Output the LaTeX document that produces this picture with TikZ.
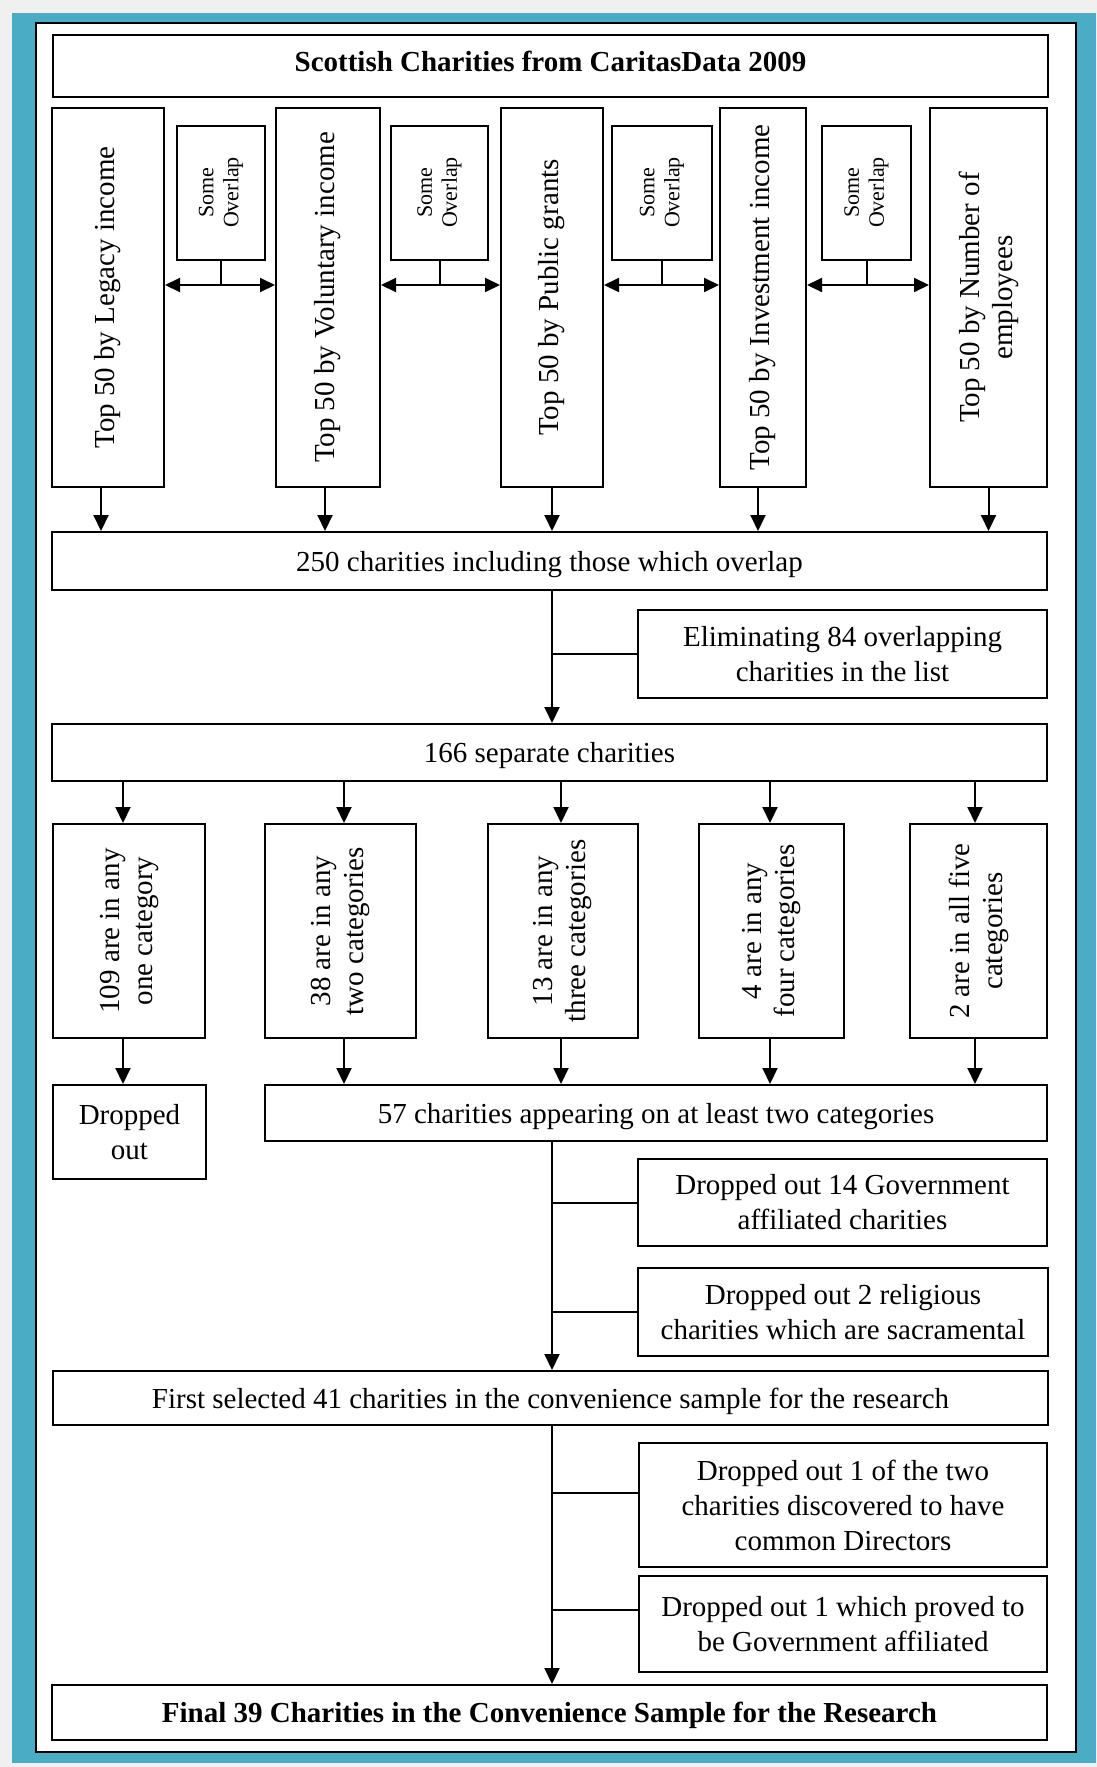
\documentclass[tikz,border=0pt]{standalone}
\usepackage{fontspec}
\setmainfont{Liberation Serif}
\usetikzlibrary{arrows.meta}
\definecolor{frameteal}{RGB}{75,172,198}
\definecolor{pagegray}{RGB}{240,240,240}
\begin{document}
\begin{tikzpicture}[x=1pt,y=-1pt,
  box/.style={draw, line width=2pt, inner sep=0pt, fill=white},
  txt/.style={font=\fontsize{29}{35}\selectfont, align=center, inner sep=0pt},
  onetxt/.style={txt, text depth=0pt},
  boldtxt/.style={font=\fontsize{29}{35}\selectfont\bfseries, align=center, inner sep=0pt},
  smalltxt/.style={font=\fontsize{22}{25}\selectfont, align=center, inner sep=0pt, rotate=90},
  vtxt/.style={font=\fontsize{29}{33}\selectfont, align=center, inner sep=0pt, rotate=90},
  link/.style={line width=2pt},
  flow/.style={line width=2pt, -{Triangle[length=16pt,width=15pt]}},
  twoway/.style={line width=2pt, {Triangle[length=15pt,width=14pt]}-{Triangle[length=15pt,width=14pt]}},
]
% page, coloured frame and inner panel
\useasboundingbox (0,0) rectangle (1097,1767);
\fill[pagegray] (0,0) rectangle (1097,1767);
\fill[frameteal] (12,13) rectangle (1096,1763);
\draw[line width=2pt, fill=white] (36,23) rectangle (1076,1752);

% title
\node[box, boldtxt, minimum width=995pt, minimum height=62pt, text depth=8.5pt] (title) at (550.5,66)
  {Scottish Charities from CaritasData 2009};

% five ranking lists
\node[box, minimum width=112pt, minimum height=379pt] (legacy) at (108,297.5) {};
\node[vtxt] (legacy-t) at (legacy) {Top 50 by Legacy income};
\node[box, minimum width=104pt, minimum height=379pt] (volun) at (328,297.5) {};
\node[vtxt] (volun-t) at (volun) {Top 50 by Voluntary income};
\node[box, minimum width=102pt, minimum height=379pt] (grants) at (552,297.5) {};
\node[vtxt] (grants-t) at (grants) {Top 50 by Public grants};
\node[box, minimum width=86pt, minimum height=379pt] (invest) at (763,297.5) {};
\node[vtxt] (invest-t) at (invest) {Top 50 by Investment income};
\node[box, minimum width=117pt, minimum height=379pt] (employ) at (988.5,297.5) {};
\node[vtxt] (employ-t) at (employ) {Top 50 by Number of\\employees};

% overlap notes between the lists
\node[box, minimum width=88pt, minimum height=134pt] (ov1) at (221,192.5) {};
\node[smalltxt] (ov1-t) at (ov1) {Some\\Overlap};
\node[box, minimum width=97pt, minimum height=134pt] (ov2) at (439.5,192.5) {};
\node[smalltxt] (ov2-t) at (ov2) {Some\\Overlap};
\node[box, minimum width=100pt, minimum height=134pt] (ov3) at (662,192.5) {};
\node[smalltxt] (ov3-t) at (ov3) {Some\\Overlap};
\node[box, minimum width=89pt, minimum height=134pt] (ov4) at (866.5,192.5) {};
\node[smalltxt] (ov4-t) at (ov4) {Some\\Overlap};

\coordinate (hline) at (0,285);
\draw[twoway] (legacy.east |- hline) -- (volun.west |- hline);
\draw[twoway] (volun.east |- hline) -- (grants.west |- hline);
\draw[twoway] (grants.east |- hline) -- (invest.west |- hline);
\draw[twoway] (invest.east |- hline) -- (employ.west |- hline);
\draw[link] (ov1.south) -- (ov1.south |- hline);
\draw[link] (ov2.south) -- (ov2.south |- hline);
\draw[link] (ov3.south) -- (ov3.south |- hline);
\draw[link] (ov4.south) -- (ov4.south |- hline);

% pooled list
\node[box, onetxt, minimum width=995pt, minimum height=58pt] (b250) at (549.5,561)
  {250 charities including those which overlap};
\foreach \n/\dx in {legacy/-7,volun/-3,grants/0,invest/-5,employ/0}
  \draw[flow] ([xshift=\dx pt]\n.south) -- ([xshift=\dx pt]\n.south |- b250.north);

\coordinate (spine) at (552,0);
\node[box, txt, minimum width=409pt, minimum height=88pt] (elim) at (842.5,654)
  {Eliminating 84 overlapping\\charities in the list};
\node[box, onetxt, minimum width=995pt, minimum height=57pt] (b166) at (549.5,752.5)
  {166 separate charities};
\draw[flow] (b250.south -| spine) -- (b166.north -| spine);
\draw[link] (elim.west) -- (elim.west -| spine);

% split by number of categories
\node[box, minimum width=152pt, minimum height=214pt] (c1) at (129,931) {};
\node[vtxt] (c1-t) at (c1) {109 are in any\\one category};
\node[box, minimum width=151pt, minimum height=214pt] (c2) at (340.5,931) {};
\node[vtxt] (c2-t) at (c2) {38 are in any\\two categories};
\node[box, minimum width=150pt, minimum height=214pt] (c3) at (563,931) {};
\node[vtxt] (c3-t) at (c3) {13 are in any\\three categories};
\node[box, minimum width=145pt, minimum height=214pt] (c4) at (771.5,931) {};
\node[vtxt] (c4-t) at (c4) {4 are in any\\four categories};
\node[box, minimum width=137pt, minimum height=214pt] (c5) at (978.5,931) {};
\node[vtxt] (c5-t) at (c5) {2 are in all five\\categories};
\foreach \n/\dx in {c1/-6,c2/3.5,c3/-2,c4/-1.5,c5/-3.5}
  \draw[flow] ([xshift=\dx pt]\n.north |- b166.south) -- ([xshift=\dx pt]\n.north);

\node[box, txt, minimum width=153pt, minimum height=94pt] (drop) at (129.5,1132)
  {Dropped\\out};
\node[box, onetxt, minimum width=782pt, minimum height=56pt] (b57) at (656,1113)
  {57 charities appearing on at least two categories};
\draw[flow] ([xshift=-6pt]c1.south) -- ([xshift=-6pt]c1.south |- drop.north);
\foreach \n/\dx in {c2/3.5,c3/-2,c4/-1.5,c5/-3.5}
  \draw[flow] ([xshift=\dx pt]\n.south) -- ([xshift=\dx pt]\n.south |- b57.north);

% second screening
\node[box, txt, minimum width=409pt, minimum height=87pt] (gov14) at (842.5,1202.5)
  {Dropped out 14 Government\\affiliated charities};
\node[box, txt, minimum width=410pt, minimum height=88pt] (rel2) at (843,1312)
  {Dropped out 2 religious\\charities which are sacramental};
\node[box, onetxt, minimum width=995pt, minimum height=54pt] (b41) at (550.5,1398)
  {First selected 41 charities in the convenience sample for the research};
\draw[flow] (b57.south -| spine) -- (b41.north -| spine);
\draw[link] (gov14.west) -- (gov14.west -| spine);
\draw[link] (rel2.west) -- (rel2.west -| spine);

% final screening
\node[box, txt, minimum width=408pt, minimum height=124pt] (dirs) at (843,1505)
  {Dropped out 1 of the two\\charities discovered to have\\common Directors};
\node[box, txt, minimum width=408pt, minimum height=96pt] (gov1) at (843,1624)
  {Dropped out 1 which proved to\\be Government affiliated};
\node[box, boldtxt, text depth=0pt, minimum width=995pt, minimum height=55pt] (final) at (549.5,1712.5)
  {Final 39 Charities in the Convenience Sample for the Research};
\draw[flow] (b41.south -| spine) -- (final.north -| spine);
\draw[link] ([yshift=12pt]dirs.west) -- ([yshift=12pt]dirs.west -| spine);
\draw[link] ([yshift=14pt]gov1.west) -- ([yshift=14pt]gov1.west -| spine);
\end{tikzpicture}
\end{document}
